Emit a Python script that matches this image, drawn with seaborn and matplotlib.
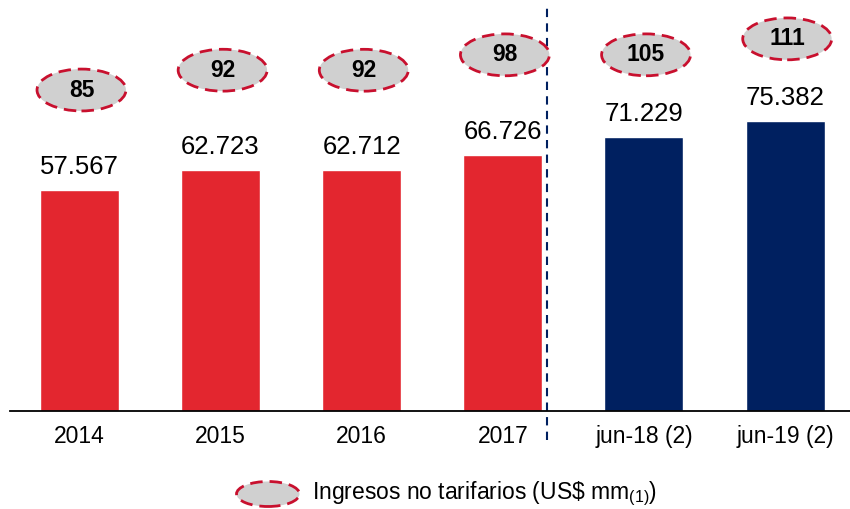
import numpy as np
import pandas as pd
import seaborn as sns
import matplotlib.pyplot as plt
from matplotlib.patches import Ellipse

# Datos
periodos = ["2014", "2015", "2016", "2017", "jun-18 (2)", "jun-19 (2)"]
ingresos = [57567, 62723, 62712, 66726, 71229, 75382]
no_tarifarios = [85, 92, 92, 98, 105, 111]
tipo = ["anual", "anual", "anual", "anual", "jun", "jun"]

sns.set_theme(style="white")
plt.rcParams["font.family"] = ["Liberation Sans", "DejaVu Sans"]
plt.rcParams["mathtext.fontset"] = "custom"
plt.rcParams["mathtext.rm"] = "Liberation Sans"
plt.rcParams["mathtext.it"] = "Liberation Sans"

ROJO = "#e3262f"
AZUL = "#002060"
BORDE = "#c8102e"
GRIS = "#d0d0d0"
colores = {"anual": ROJO, "jun": AZUL}

df = pd.DataFrame({"periodo": periodos, "ingresos": ingresos, "tipo": tipo,
                   "nt": no_tarifarios})

fig = plt.figure(figsize=(8.5, 5.09), dpi=100)
ax = fig.add_axes([0.012, 0.1925, 0.988, 0.8075])

sns.barplot(data=df, x="periodo", y="ingresos", hue="tipo", palette=colores,
            dodge=False, width=0.56, legend=False, ax=ax, saturation=1)

ax.set_xlim(-0.49, 5.46)
ax.set_ylim(0, 107000)
ax.set_xlabel("")
ax.set_ylabel("")
ax.set_yticks([])
for s in ["top", "right", "left"]:
    ax.spines[s].set_visible(False)
ax.spines["bottom"].set_color("black")
ax.spines["bottom"].set_linewidth(1.3)
ax.tick_params(axis="x", length=0, pad=10, labelsize=16.5, colors="black")

# Etiquetas de valor
for i, v in enumerate(ingresos):
    ax.annotate(f"{v:,}".replace(",", "."), (i, v), xytext=(0, 8),
                textcoords="offset points", ha="center", va="bottom",
                fontsize=18.5, color="black")

# Óvalos con ingresos no tarifarios
separacion = {"anual": 26000, "jun": 21500}
for i, (v, n, t) in enumerate(zip(ingresos, no_tarifarios, tipo)):
    yc = v + separacion[t]
    e = Ellipse((i + 0.015, yc), width=0.63, height=10900, facecolor=GRIS,
                edgecolor=BORDE, linewidth=2.0, linestyle=(0, (4.5, 2.5)),
                clip_on=False, zorder=3)
    ax.add_patch(e)
    ax.text(i + 0.015, yc, str(n), ha="center", va="center", fontsize=16.5,
            fontweight="bold", color="black", zorder=4)

# Línea divisoria
ax.axvline(3.316, ymin=-0.07, ymax=0.98, color=AZUL, linestyle=(0, (4, 3)),
           linewidth=1.5, clip_on=False)

# Leyenda
leg = Ellipse((268 / 850, 1 - 494 / 509), width=63 / 850, height=25 / 509,
              transform=fig.transFigure, facecolor=GRIS, edgecolor=BORDE,
              linewidth=2.0, linestyle=(0, (4.5, 2.5)))
fig.patches.append(leg)
fig.text(312 / 850, 1 - 494 / 509, r"Ingresos no tarifarios (US\$ mm$_{(1)}$)",
         ha="left", va="center", fontsize=16.5, color="black")

fig.savefig("out.png", dpi=100)
